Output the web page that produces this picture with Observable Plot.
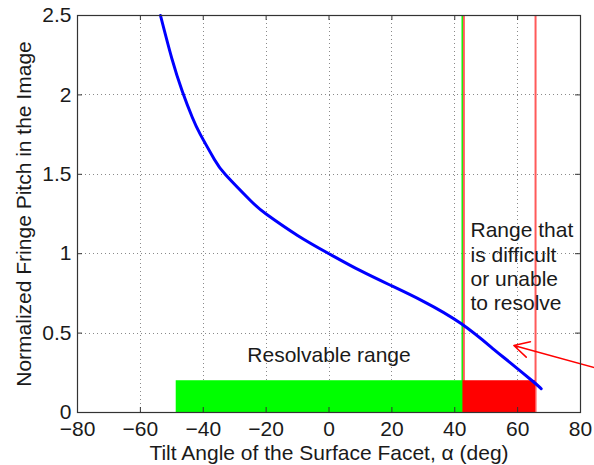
<!DOCTYPE html>
<html><head><meta charset="utf-8">
<script src="https://cdn.jsdelivr.net/npm/d3@7"></script>
<script src="https://cdn.jsdelivr.net/npm/@observablehq/plot@0.6"></script>
<style>body{margin:0;background:#fff}</style>
</head><body><div id="chart"></div>
<script>
// Curve
const curveX = [-53.6, -50.0, -46.7, -43.5, -40.9, -36.5, -32.9, -25.0, -20.0, -10.0, 0.0, 10.0, 20.0, 30.0, 42.0, 52.4, 57.7, 65.1, 67.5];
const curveY = [2.5, 2.23, 2.025, 1.859, 1.75, 1.595, 1.497, 1.335, 1.25, 1.115, 1.0, 0.893, 0.797, 0.70, 0.56, 0.398, 0.313, 0.192, 0.15];

const xTicks = [-80, -60, -40, -20, 0, 20, 40, 60, 80];
const yTicks = [0, 0.5, 1, 1.5, 2, 2.5];
const yTickLabels = ["0", "0.5", "1", "1.5", "2", "2.5"];

const greenLineX = [42.4];
const redLineX = [42.9, 65.7];

const barNames = ["resolvable", "difficult"];
const barStart = [-48.6, 42.6];
const barEnd = [42.6, 65.7];
const barTop = [0.2, 0.2];
const barColors = ["#00ff00", "#ff0000"];

const labelTexts = ["Resolvable range", "Range that\nis difficult\nor unable\nto resolve"];
const labelX = [0, 45.0];
const labelY = [0.36, 0.922];

const arrowFrom = [84.4, 0.283];
const arrowTo = [58.8, 0.422];

const xLabel = "Tilt Angle of the Surface Facet, \u03b1 (deg)";
const yLabel = "Normalized Fringe Pitch in the Image";

const curve = curveX.map((x, i) => ({x, y: curveY[i]}));
const bars = barNames.map((n, i) => ({n, x1: barStart[i], x2: barEnd[i], y: barTop[i], c: barColors[i]}));
const labels = labelTexts.map((t, i) => ({t, x: labelX[i], y: labelY[i]}));

const W = 594, H = 465;
const mL = 77, mR = 14, mT = 15, mB = 53;
const innerW = W - mL - mR, innerH = H - mT - mB;
const minus = d => d < 0 ? "\u2212" + Math.abs(d) : String(d);
const frameColor = "#333333";
const gridStyle = {stroke: "#8a8a8a", strokeOpacity: 1, strokeWidth: 1, strokeDasharray: "1,3", shapeRendering: "crispEdges"};

const chart = Plot.plot({
  width: W, height: H,
  marginLeft: mL, marginRight: mR, marginTop: mT, marginBottom: mB,
  style: {fontFamily: "'Liberation Sans', Arial, sans-serif", fontSize: "21px", color: "#1a1a1a", background: "#fff"},
  x: {domain: [-80, 80]},
  y: {domain: [0, 2.5]},
  marks: [
    Plot.ruleX(xTicks.slice(1, -1), {x: d => d, ...gridStyle}),
    Plot.ruleY(yTicks.slice(1, -1), {y: d => d, ...gridStyle}),
    Plot.ruleX(greenLineX, {stroke: "#00ff00", strokeWidth: 1.6}),
    Plot.ruleX(redLineX, {stroke: "#ff5a5a", strokeWidth: 2}),
    Plot.rectY(bars, {x1: "x1", x2: "x2", y1: 0, y2: "y", fill: "c"}),
    Plot.line(curve, {x: "x", y: "y", stroke: "#0000ff", strokeWidth: 3, curve: "natural"}),
    Plot.text([labels[0]], {x: "x", y: "y", text: "t", fontSize: 21, textAnchor: "middle", fill: "#1a1a1a"}),
    Plot.text([labels[1]], {x: "x", y: "y", text: "t", fontSize: 21, textAnchor: "start", lineHeight: 1.16, fill: "#1a1a1a"}),
    Plot.arrow([{x1: arrowFrom[0], y1: arrowFrom[1], x2: arrowTo[0], y2: arrowTo[1]}],
      {x1: "x1", y1: "y1", x2: "x2", y2: "y2", stroke: "#ff0000", strokeWidth: 1.5, headLength: 17, headAngle: 56, clip: false}),
    // inward ticks on all four sides
    Plot.tickX(xTicks, {x: d => d, stroke: frameColor, insetTop: innerH - 5}),
    Plot.tickX(xTicks, {x: d => d, stroke: frameColor, insetBottom: innerH - 5}),
    Plot.tickY(yTicks, {y: d => d, stroke: frameColor, insetRight: innerW - 5}),
    Plot.tickY(yTicks, {y: d => d, stroke: frameColor, insetLeft: innerW - 5}),
    Plot.frame({stroke: frameColor, strokeWidth: 1.2}),
    Plot.axisX({ticks: xTicks, tickSize: 0, tickPadding: 9, tickFormat: minus, label: null, fontSize: 21}),
    Plot.axisY({ticks: yTicks, tickSize: 0, tickPadding: 6, tickFormat: (d) => yTickLabels[yTicks.indexOf(d)], label: null, fontSize: 21}),
    Plot.text([xLabel], {frameAnchor: "bottom", dy: 41, text: d => d, fontSize: 21, textAnchor: "middle", lineAnchor: "middle", fill: "#1a1a1a"}),
    Plot.text([yLabel], {frameAnchor: "left", dx: -53, rotate: -90, text: d => d, fontSize: 21, textAnchor: "middle", lineAnchor: "middle", fill: "#1a1a1a"})
  ]
});
document.getElementById("chart").appendChild(chart);
</script>
</body></html>
